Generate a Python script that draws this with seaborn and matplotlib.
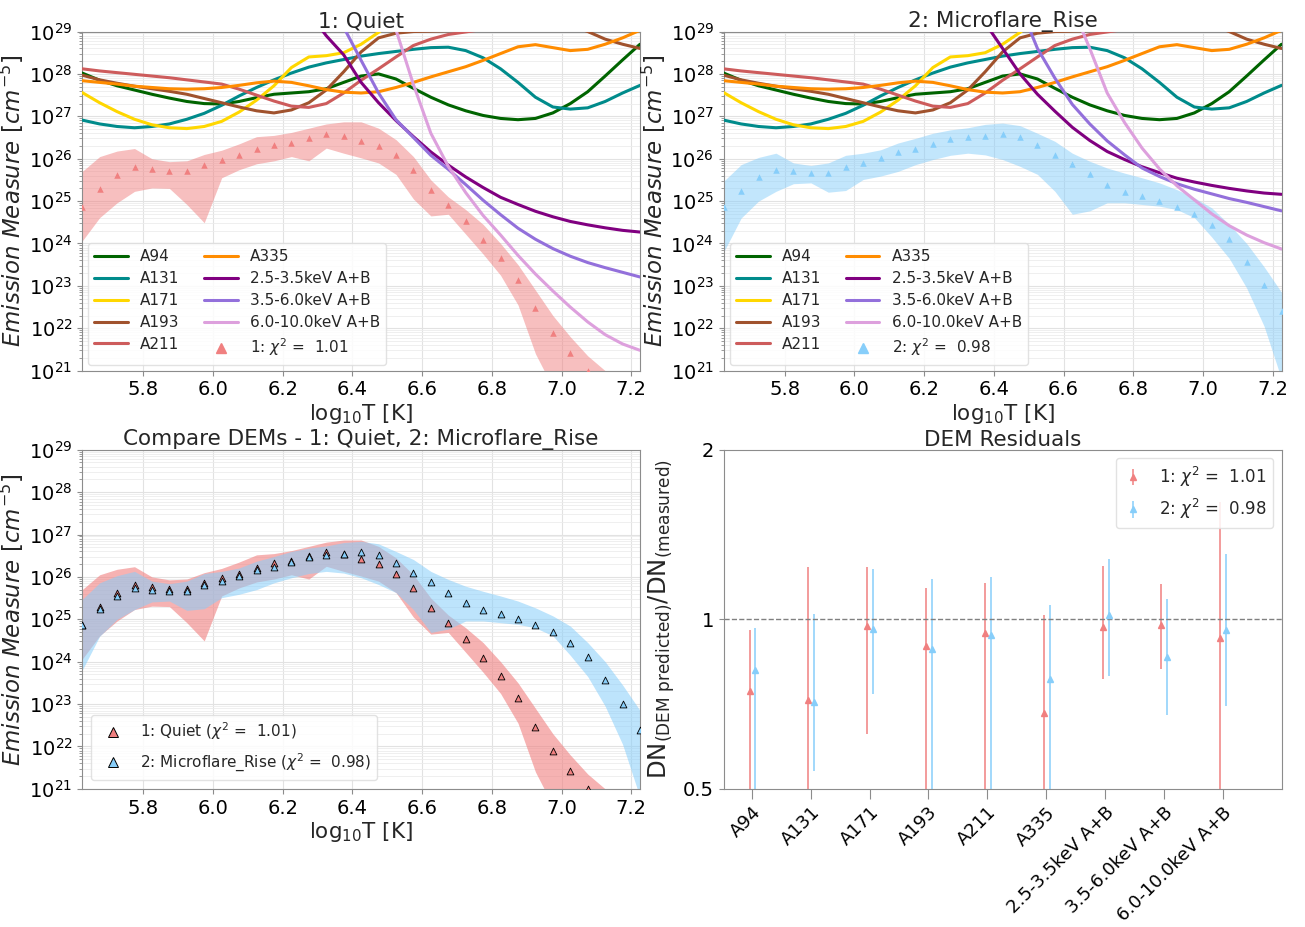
"""DEM loci, comparison and residuals (Quiet vs Microflare_Rise)."""

import matplotlib

matplotlib.use("Agg")
import matplotlib.pyplot as plt
import numpy as np
import pandas as pd
import seaborn as sns
from matplotlib.lines import Line2D
from matplotlib.ticker import FixedFormatter, FixedLocator, NullLocator

nan = np.nan

# temperature bin centres
log_t = np.round(np.linspace(5.625, 7.225, 33), 3)

# EM loci, log10 [cm^-5] (AIA shared by both intervals)
loci_a94 = [28.02, 27.85, 27.72, 27.62, 27.52, 27.43, 27.35, 27.30, 27.29, 27.35, 27.44,
            27.52, 27.55, 27.58, 27.65, 27.80, 27.95, 28.00, 27.88, 27.66, 27.45, 27.27,
            27.13, 27.02, 26.95, 26.92, 26.95, 27.08, 27.30, 27.58, 27.95, 28.33, 28.70]
loci_a131 = [26.91, 26.82, 26.76, 26.73, 26.76, 26.82, 26.93, 27.07, 27.26, 27.48, 27.68,
             27.86, 28.02, 28.16, 28.26, 28.34, 28.42, 28.48, 28.53, 28.58, 28.62, 28.63,
             28.55, 28.38, 28.12, 27.80, 27.45, 27.22, 27.17, 27.20, 27.35, 27.55, 27.73]
loci_a171 = [27.56, 27.32, 27.11, 26.93, 26.80, 26.73, 26.71, 26.76, 26.88, 27.10, 27.38,
             27.72, 28.15, 28.40, 28.43, 28.50, 28.70, 28.98, 29.30, nan, nan, nan,
             nan, nan, nan, nan, nan, nan, nan, nan, nan, nan, nan]
loci_a193 = [27.97, 27.86, 27.78, 27.71, 27.65, 27.59, 27.52, 27.42, 27.32, 27.22, 27.13,
             27.08, 27.15, 27.32, 27.62, 28.05, 28.52, 28.85, 28.96, 29.00, 29.01, 29.02,
             29.03, 29.10, 29.30, 29.40, 29.40, 29.30, 29.15, 29.00, 28.82, 28.70, 28.60]
loci_a211 = [28.12, 28.07, 28.03, 27.99, 27.95, 27.91, 27.86, 27.81, 27.76, 27.64, 27.50,
             27.36, 27.24, 27.21, 27.30, 27.55, 27.85, 28.12, 28.40, 28.67, 28.82, 28.93,
             28.99, 29.05, 29.20, nan, nan, nan, nan, nan, nan, nan, nan]
loci_a335 = [27.84, 27.80, 27.76, 27.71, 27.68, 27.65, 27.64, 27.65, 27.68, 27.73, 27.79,
             27.83, 27.80, 27.72, 27.63, 27.57, 27.55, 27.58, 27.68, 27.80, 27.93, 28.05,
             28.17, 28.32, 28.48, 28.64, 28.69, 28.62, 28.55, 28.58, 28.70, 28.85, 29.03]

# NuSTAR loci, Quiet
loci_q_x1 = [nan] * 13 + [29.45, 28.90, 28.45, 27.80, 27.32, 26.90, 26.52, 26.16, 25.85,
                          25.57, 25.32, 25.09, 24.92, 24.76, 24.63, 24.52, 24.44, 24.37,
                          24.31, 24.27]
loci_q_x2 = [nan] * 15 + [29.10, 28.32, 27.55, 26.92, 26.50, 26.08, 25.75, 25.39, 25.02,
                          24.68, 24.36, 24.10, 23.88, 23.70, 23.55, 23.43, 23.32, 23.21]
loci_q_x3 = [nan] * 17 + [30.30, 29.04, 27.75, 26.60, 25.82, 25.20, 24.66, 24.20, 23.72,
                          23.28, 22.88, 22.50, 22.15, 21.85, 21.63, 21.48]
# NuSTAR loci, Microflare_Rise
loci_m_x1 = [nan] * 15 + [29.20, 28.60, 28.00, 27.52, 27.12, 26.74, 26.43, 26.17, 25.98,
                          25.81, 25.67, 25.54, 25.45, 25.37, 25.30, 25.24, 25.19, 25.16]
loci_m_x2 = [nan] * 17 + [29.60, 28.60, 27.90, 27.28, 26.82, 26.42, 26.09, 25.78, 25.58,
                          25.41, 25.28, 25.17, 25.06, 24.97, 24.87, 24.77]
loci_m_x3 = [nan] * 20 + [29.58, 28.60, 27.55, 26.85, 26.25, 25.76, 25.36, 25.03, 24.70,
                          24.42, 24.20, 24.02, 23.87]

# DEM solutions (log10 EM) and error bands
dem_q = [24.86, 25.29, 25.62, 25.80, 25.76, 25.72, 25.71, 25.86, 25.97, 26.08, 26.22,
         26.33, 26.37, 26.50, 26.58, 26.54, 26.42, 26.31, 26.08, 25.74, 25.27, 24.91,
         24.53, 24.09, 23.66, 23.14, 22.47, 21.90, 21.41, 21.00, 20.50, 20.00, 19.50]
dem_q_hi = [25.70, 26.05, 26.18, 26.24, 26.00, 25.93, 25.95, 26.10, 26.20, 26.35, 26.52,
            26.55, 26.62, 26.72, 26.82, 26.87, 26.87, 26.72, 26.45, 26.05, 25.50, 25.10,
            24.80, 24.45, 24.00, 23.50, 22.90, 22.30, 21.80, 21.35, 21.00, 20.60, 20.20]
dem_q_lo = [24.06, 24.61, 24.96, 25.23, 25.31, 25.30, 24.92, 24.49, 25.55, 25.74, 25.88,
            25.95, 26.05, 25.95, 26.25, 26.13, 26.02, 25.90, 25.63, 25.05, 24.65, 24.69,
            24.22, 23.75, 23.25, 22.55, 21.40, 20.60, 20.00, 19.50, 19.00, 18.50, 18.00]
dem_m = [24.86, 25.25, 25.56, 25.74, 25.70, 25.66, 25.66, 25.80, 25.90, 26.02, 26.16,
         26.23, 26.35, 26.47, 26.52, 26.54, 26.58, 26.52, 26.33, 26.09, 25.88, 25.63,
         25.39, 25.22, 25.12, 25.00, 24.87, 24.69, 24.43, 24.10, 23.56, 23.01, 22.40]
dem_m_hi = [25.47, 25.86, 26.03, 26.13, 25.90, 25.84, 25.90, 26.08, 26.13, 26.21, 26.37,
            26.48, 26.60, 26.68, 26.73, 26.81, 26.84, 26.78, 26.60, 26.41, 26.13, 25.94,
            25.78, 25.66, 25.55, 25.43, 25.27, 25.08, 24.84, 24.45, 24.00, 23.45, 22.85]
dem_m_lo = [23.80, 24.60, 25.00, 25.23, 25.41, 25.43, 25.21, 25.25, 25.51, 25.59, 25.70,
            25.86, 25.98, 26.08, 26.13, 26.09, 25.98, 25.82, 25.63, 25.23, 24.69, 24.77,
            24.96, 24.96, 24.92, 24.88, 24.80, 24.61, 24.15, 23.65, 22.95, 22.05, 20.80]

# residuals DN_pred / DN_meas
channels = ["A94", "A131", "A171", "A193", "A211", "A335",
            "2.5-3.5keV A+B", "3.5-6.0keV A+B", "6.0-10.0keV A+B"]
res_q = [0.746, 0.718, 0.973, 0.898, 0.946, 0.683, 0.969, 0.977, 0.928]
res_q_lo = [0.45, 0.45, 0.627, 0.45, 0.45, 0.45, 0.785, 0.817, 0.45]
res_q_hi = [0.956, 1.238, 1.238, 1.138, 1.160, 1.019, 1.243, 1.157, 1.615]
res_m = [0.812, 0.713, 0.960, 0.884, 0.937, 0.782, 1.019, 0.857, 0.956]
res_m_lo = [0.45, 0.539, 0.738, 0.45, 0.45, 0.45, 0.792, 0.675, 0.702]
res_m_hi = [0.966, 1.023, 1.227, 1.177, 1.189, 1.059, 1.278, 1.085, 1.304]

chan_colors = ["darkgreen", "darkcyan", "gold", "sienna", "indianred", "darkorange",
               "purple", "mediumpurple", "plum"]
col_q = "lightcoral"
col_m = "lightskyblue"
chi_q = 1.01
chi_m = 0.98

sns.set_style("ticks", rc={"axes.edgecolor": "0.55", "xtick.color": "0.55",
                           "ytick.color": "0.55"})
plt.rcParams["xtick.labelcolor"] = "black"
plt.rcParams["ytick.labelcolor"] = "black"
plt.rcParams["font.family"] = ["DejaVu Sans"]
plt.rcParams["mathtext.fontset"] = "dejavusans"

EM_LABEL = r"$Emission\ Measure\ [cm^{-5}]$"
T_LABEL = r"log$_{10}$T [K]"


def style_em_axis(ax, title):
    ax.set_yscale("log")
    ax.set_xlim(log_t[0], log_t[-1])
    ax.set_ylim(1e21, 1e29)
    ax.set_yticks([10.0 ** p for p in range(21, 30)])
    ax.grid(True, which="major", color="#e2e2e2", lw=0.8)
    ax.grid(True, which="minor", axis="y", color="#ececec", lw=0.6)
    ax.set_axisbelow(True)
    ax.set_xlabel(T_LABEL, fontsize=15.5, labelpad=2)
    ax.set_ylabel(EM_LABEL, fontsize=16.5, labelpad=2)
    ax.set_title(title, fontsize=15.5, pad=3)
    ax.tick_params(axis="both", which="major", labelsize=14)
    for s in ax.spines.values():
        s.set_visible(True)


def plot_loci_panel(ax, xray, dem, lo, hi, color, tag, chi, title):
    rows = []
    for name, vals in zip(channels, [loci_a94, loci_a131, loci_a171, loci_a193,
                                     loci_a211, loci_a335] + list(xray)):
        for t, v in zip(log_t, vals):
            rows.append({"logT": t, "em": 10.0 ** v, "channel": name})
    df = pd.DataFrame(rows).dropna()
    ax.fill_between(log_t, 10.0 ** np.array(lo), 10.0 ** np.array(hi),
                    color=color, alpha=0.5, lw=0, zorder=1)
    sns.lineplot(data=df, x="logT", y="em", hue="channel", hue_order=channels,
                 palette=dict(zip(channels, chan_colors)), lw=2.2, legend=False,
                 ax=ax, zorder=3)
    sns.scatterplot(x=log_t, y=10.0 ** np.array(dem), marker="^", s=22, color=color,
                    linewidth=0, ax=ax, zorder=4)
    style_em_axis(ax, title)
    handles = [Line2D([], [], color=c, lw=2.2) for c in chan_colors]
    handles.append(Line2D([], [], ls="", marker="^", ms=7, color=color))
    labels = channels + [rf"{tag}: $\chi^2$ =  {chi:.2f}"]
    ax.legend(handles, labels, ncol=2, loc="lower left", fontsize=11, frameon=True,
              framealpha=0.85, edgecolor="#dddddd", handlelength=2.2,
              columnspacing=1.6, labelspacing=0.45, borderaxespad=0.4)


fig, axes = plt.subplots(2, 2, figsize=(13.05, 9.27), dpi=100)
fig.subplots_adjust(left=0.063, right=0.982, top=0.966, bottom=0.149,
                    wspace=0.15, hspace=0.233)

plot_loci_panel(axes[0, 0], [loci_q_x1, loci_q_x2, loci_q_x3], dem_q, dem_q_lo,
                dem_q_hi, col_q, "1", chi_q, "1: Quiet")
plot_loci_panel(axes[0, 1], [loci_m_x1, loci_m_x2, loci_m_x3], dem_m, dem_m_lo,
                dem_m_hi, col_m, "2", chi_m, "2: Microflare_Rise")

# compare DEMs
ax = axes[1, 0]
ax.fill_between(log_t, 10.0 ** np.array(dem_q_lo), 10.0 ** np.array(dem_q_hi),
                color=col_q, alpha=0.6, lw=0, zorder=1)
ax.fill_between(log_t, 10.0 ** np.array(dem_m_lo), 10.0 ** np.array(dem_m_hi),
                color=col_m, alpha=0.55, lw=0, zorder=2)
sns.scatterplot(x=log_t, y=10.0 ** np.array(dem_q), marker="^", s=24, color=col_q,
                edgecolor="black", linewidth=0.6, ax=ax, zorder=4)
sns.scatterplot(x=log_t, y=10.0 ** np.array(dem_m), marker="^", s=24, color=col_m,
                edgecolor="black", linewidth=0.6, ax=ax, zorder=5)
style_em_axis(ax, "Compare DEMs - 1: Quiet, 2: Microflare_Rise")
cmp_handles = [Line2D([], [], ls="", marker="^", ms=7, markerfacecolor=col_q,
                      markeredgecolor="black", markeredgewidth=0.7),
               Line2D([], [], ls="", marker="^", ms=7, markerfacecolor=col_m,
                      markeredgecolor="black", markeredgewidth=0.7)]
ax.legend(cmp_handles, [rf"1: Quiet ($\chi^2$ =  {chi_q:.2f})",
                        rf"2: Microflare_Rise ($\chi^2$ =  {chi_m:.2f})"],
          loc="lower left", fontsize=11, framealpha=0.85, edgecolor="#dddddd",
          borderaxespad=0.6, labelspacing=0.6)

# residuals
ax = axes[1, 1]
xpos = np.arange(len(channels))
for vals, lo, hi, col, off, lab in [
        (res_q, res_q_lo, res_q_hi, col_q, -0.04, rf"1: $\chi^2$ =  {chi_q:.2f}"),
        (res_m, res_m_lo, res_m_hi, col_m, 0.06, rf"2: $\chi^2$ =  {chi_m:.2f}")]:
    v = np.array(vals)
    yerr = [v - np.array(lo), np.array(hi) - v]
    ax.errorbar(xpos + off, v, yerr=yerr, fmt="^", ms=4.5, color=col, ecolor=col,
                elinewidth=1.1, capsize=0, label=lab)
ax.axhline(1.0, color="0.5", ls="--", lw=1.0)
ax.set_yscale("log")
ax.set_ylim(0.5, 2)
ax.yaxis.set_major_locator(FixedLocator([0.5, 1, 2]))
ax.yaxis.set_major_formatter(FixedFormatter(["0.5", "1", "2"]))
ax.yaxis.set_minor_locator(NullLocator())
ax.set_xlim(-0.48, 9.0)
ax.set_xticks(xpos)
ax.set_xticklabels(channels, rotation=45, ha="right", rotation_mode="anchor")
ax.tick_params(axis="x", length=7, labelsize=13)
ax.tick_params(axis="y", labelsize=14)
ax.set_ylabel(r"DN$_{\mathrm{(DEM\ predicted)}}$/DN$_{\mathrm{(measured)}}$",
              fontsize=17.5, labelpad=4)
ax.set_title("DEM Residuals", fontsize=15.5, pad=3)
for s in ax.spines.values():
    s.set_visible(True)
ax.legend(loc="upper right", fontsize=12, framealpha=0.85, edgecolor="#dddddd",
          handlelength=1.3, handletextpad=0.9)

fig.savefig("out.png", dpi=100)
plt.close(fig)
